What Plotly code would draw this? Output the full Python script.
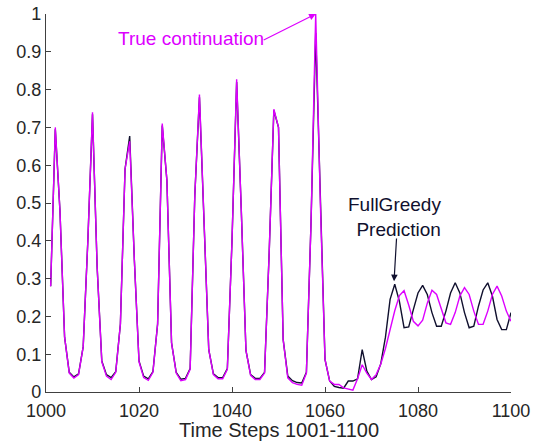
import plotly.graph_objects as go

steps = list(range(1001, 1101))

true_continuation = [
    0.28, 0.70, 0.48, 0.145, 0.05, 0.037, 0.046, 0.12, 0.40, 0.74,
    0.33, 0.08, 0.042, 0.033, 0.052, 0.18, 0.59, 0.663, 0.35, 0.08,
    0.038, 0.031, 0.052, 0.18, 0.71, 0.56, 0.13, 0.05, 0.03, 0.033,
    0.06, 0.52, 0.787, 0.47, 0.112, 0.046, 0.035, 0.035, 0.06, 0.40,
    0.827, 0.48, 0.11, 0.044, 0.033, 0.033, 0.05, 0.37, 0.748, 0.70,
    0.139, 0.037, 0.025, 0.02, 0.018, 0.05, 0.45, 1.0, 0.50, 0.086,
    0.029, 0.020, 0.020, 0.011, 0.007, 0.005, 0.035, 0.072, 0.05, 0.033,
    0.046, 0.074, 0.115, 0.165, 0.215, 0.255, 0.268, 0.23, 0.187, 0.175,
    0.19, 0.235, 0.269, 0.258, 0.218, 0.183, 0.179, 0.21, 0.254, 0.276,
    0.258, 0.214, 0.179, 0.179, 0.214, 0.258, 0.28, 0.254, 0.214, 0.187,
]

fullgreedy_prediction = [
    0.28, 0.695, 0.48, 0.145, 0.052, 0.04, 0.048, 0.12, 0.40, 0.735,
    0.33, 0.082, 0.046, 0.038, 0.054, 0.18, 0.59, 0.677, 0.35, 0.082,
    0.042, 0.035, 0.054, 0.18, 0.705, 0.56, 0.13, 0.052, 0.034, 0.036,
    0.062, 0.52, 0.78, 0.47, 0.112, 0.048, 0.038, 0.038, 0.062, 0.40,
    0.82, 0.48, 0.11, 0.046, 0.036, 0.036, 0.052, 0.37, 0.745, 0.70,
    0.139, 0.042, 0.03, 0.025, 0.024, 0.052, 0.45, 0.95, 0.50, 0.086,
    0.029, 0.015, 0.012, 0.010, 0.029, 0.029, 0.035, 0.112, 0.055, 0.033,
    0.040, 0.075, 0.145, 0.245, 0.285, 0.24, 0.17, 0.172, 0.218, 0.262,
    0.282, 0.258, 0.21, 0.174, 0.174, 0.214, 0.262, 0.289, 0.262, 0.21,
    0.17, 0.174, 0.227, 0.27, 0.289, 0.254, 0.192, 0.165, 0.165, 0.21,
]

x_ticks = [1000, 1020, 1040, 1060, 1080, 1100]
y_ticks = [0, 0.1, 0.2, 0.3, 0.4, 0.5, 0.6, 0.7, 0.8, 0.9, 1]
y_tick_labels = ["0", "0.1", "0.2", "0.3", "0.4", "0.5", "0.6", "0.7", "0.8", "0.9", "1"]

NAVY = "#10102e"
MAGENTA = "#dd00ff"
FONT = "Arial, Liberation Sans, Helvetica, sans-serif"

fig = go.Figure()
fig.add_trace(go.Scatter(x=steps, y=fullgreedy_prediction, mode="lines",
                         line=dict(color=NAVY, width=1.4), showlegend=False))
fig.add_trace(go.Scatter(x=steps, y=true_continuation, mode="lines",
                         line=dict(color=MAGENTA, width=1.4), showlegend=False))

fig.add_annotation(x=1015.05, y=0.934, xref="x", yref="y", text="True continuation",
                   showarrow=False, xanchor="left", yanchor="middle",
                   font=dict(family=FONT, size=19, color=MAGENTA))
fig.add_annotation(x=1058, y=1.0, xref="x", yref="y", ax=1046.5, ay=0.929,
                   axref="x", ayref="y", text="", showarrow=True,
                   arrowhead=2, arrowsize=1.1, arrowwidth=1.2, arrowcolor=MAGENTA,
                   standoff=0, startstandoff=0)

fig.add_annotation(x=1085.4, y=0.464, xref="x", yref="y", text="FullGreedy<br>Prediction",
                   showarrow=False, xanchor="right", yanchor="middle", align="right",
                   font=dict(family=FONT, size=19, color=NAVY))
fig.add_annotation(x=1074.85, y=0.293, xref="x", yref="y", ax=1075.4, ay=0.41,
                   axref="x", ayref="y", text="", showarrow=True,
                   arrowhead=2, arrowsize=1.1, arrowwidth=1.2, arrowcolor=NAVY,
                   standoff=0, startstandoff=0)

fig.add_annotation(x=0.5, y=0, xref="paper", yref="paper", yshift=-38,
                   text="Time Steps 1001-1100", showarrow=False,
                   xanchor="center", yanchor="middle",
                   font=dict(family=FONT, size=20, color="#262626"))

fig.update_layout(
    width=536, height=442,
    margin=dict(l=46, r=25, t=14, b=50),
    paper_bgcolor="white", plot_bgcolor="white",
    font=dict(family=FONT, size=18, color="#262626"),
    xaxis=dict(range=[1000, 1100], tickvals=x_ticks, ticks="inside", ticklen=5,
               tickcolor="#404040", tickwidth=1, showline=True, linecolor="#404040",
               linewidth=1.3, showgrid=False, zeroline=False, mirror=False,
               automargin=False, tickfont=dict(size=18), ticklabelstandoff=2,
               ticklabeloverflow="allow"),
    yaxis=dict(range=[0, 1], tickvals=y_ticks, ticktext=y_tick_labels, ticks="inside",
               ticklen=5, tickcolor="#404040", tickwidth=1, showline=True,
               linecolor="#404040", linewidth=1.3, showgrid=False, zeroline=False,
               mirror=False, automargin=False, tickfont=dict(size=18),
               ticklabeloverflow="allow"),
)

# Remove the default 8px page margin so the 536x442 figure fills the window exactly.
fig.write_html("out.html",
               config={"displayModeBar": False},
               post_script="document.body.style.margin='0';document.body.style.overflow='hidden';")
